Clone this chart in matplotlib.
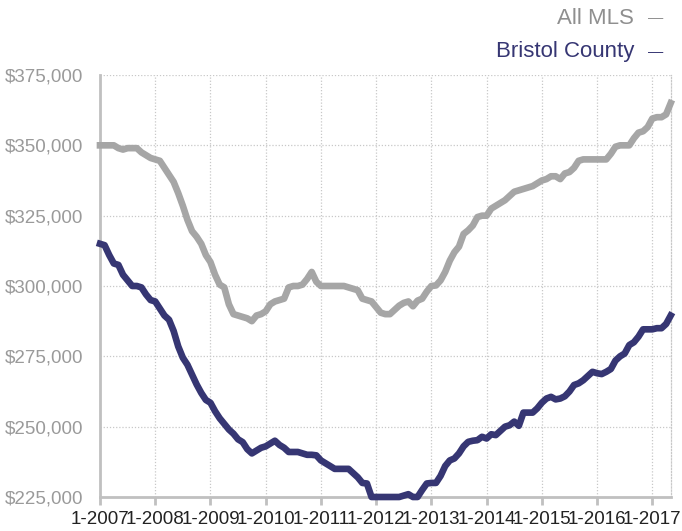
# Median sale price: All MLS vs Bristol County, monthly 1-2007 .. 5-2017
import matplotlib
matplotlib.use("Agg")
import matplotlib.pyplot as plt

all_mls = [
    350000, 350000, 350000, 350000, 349000, 348500, 349000, 349000, 349000, 347500,
    346500, 345500, 345000, 344500, 342000, 339500, 337000, 333000, 328500, 323500,
    319500, 317500, 315000, 311000, 308500, 304000, 300500, 299500, 293500, 290000,
    289500, 289000, 288500, 287500, 289500, 290000, 291000, 293500, 294500, 295000,
    295500, 299500, 300000, 300000, 300500, 302500, 305000, 301500, 300000, 300000,
    300000, 300000, 300000, 300000, 299500, 299000, 298500, 295500, 295000, 294500,
    292500, 290500, 290000, 290000, 291500, 293000, 294000, 294500, 292800, 294800,
    295500, 298000, 300000, 300200, 302000, 305000, 309000, 312000, 314000, 318500,
    319800, 321500, 324500, 325000, 325000, 327500, 328500, 329500, 330500, 332000,
    333500, 334000, 334500, 335000, 335500, 336500, 337500, 338000, 339000, 339000,
    338000, 340000, 340500, 342000, 344500, 345000, 345000, 345000, 345000, 345000,
    345000, 347000, 349500, 350000, 350000, 350000, 352500, 354500, 355000, 356500,
    359500, 360000, 360000, 361000, 365000,
]

bristol = [
    315000, 314500, 311000, 308000, 307500, 304000, 302000, 300000, 300000, 299500,
    297000, 295000, 294500, 292000, 289500, 288000, 284000, 278500, 274500, 272000,
    268500, 265000, 262000, 259500, 258500, 255500, 253000, 251000, 249000, 247500,
    245500, 244500, 242000, 240500, 241500, 242500, 243000, 244000, 245000, 243500,
    242500, 241000, 241000, 241000, 240500, 240000, 240000, 239800, 238000, 237000,
    236000, 235000, 235000, 235000, 235000, 233500, 232000, 230000, 229800, 225000,
    225000, 225000, 225000, 225000, 225000, 225000, 225500, 226000, 225000, 225000,
    227500, 229800, 230000, 230000, 232500, 236000, 238000, 238700, 240500, 243000,
    244600, 245000, 245200, 246400, 245800, 247300, 247000, 248500, 250000, 250500,
    251800, 250300, 255000, 255000, 255000, 256500, 258500, 260000, 260600, 259700,
    260000, 260800, 262500, 264800, 265400, 266500, 268000, 269500, 269000, 268700,
    269500, 270500, 273500, 275000, 276000, 279000, 280000, 282000, 284600, 284600,
    284600, 285000, 285000, 286500, 289500,
]

tick_labels = ["1-2007", "1-2008", "1-2009", "1-2010", "1-2011", "1-2012",
               "1-2013", "1-2014", "1-2015", "1-2016", "1-2017"]
y_ticks = [225000, 250000, 275000, 300000, 325000, 350000, 375000]

GRAY = "#a6a6a6"
NAVY = "#363673"
TEXT = "#9a9a9a"
AXIS = "#c0c0c0"

plt.rcParams['font.family'] = ['Liberation Sans', 'DejaVu Sans']

fig = plt.figure(figsize=(6.82, 5.31), dpi=100)
ax = fig.add_axes([100 / 682, 1 - 497 / 531, 570.7 / 682, 422 / 531])

months = list(range(len(all_mls)))
ax.plot(months, all_mls, color=GRAY, lw=4.8, solid_joinstyle="round", clip_on=False, zorder=3)
ax.plot(months, bristol, color=NAVY, lw=4.8, solid_joinstyle="round", clip_on=False, zorder=4)

ax.set_xlim(0, len(months) - 1)
ax.set_ylim(225000, 375000)

ax.set_xticks([12 * i for i in range(len(tick_labels))])
ax.set_xticklabels(tick_labels)
ax.set_yticks(y_ticks)
ax.set_yticklabels(["${:,}".format(v) for v in y_ticks])

ax.grid(True, color="#c8c8c8", linestyle=(0, (1, 1.5)), linewidth=0.9)
ax.set_axisbelow(True)

for side in ("left", "bottom"):
    ax.spines[side].set_color(AXIS)
    ax.spines[side].set_linewidth(2)
ax.spines["top"].set_visible(False)
ax.spines["right"].set_color("#c8c8c8")
ax.spines["right"].set_linestyle((0, (1, 1.5)))
ax.spines["right"].set_linewidth(0.9)

ax.tick_params(axis="x", colors=AXIS, length=6, width=2, pad=4,
               labelsize=13.5)
ax.tick_params(axis="y", length=0, pad=12, labelsize=13.5, labelcolor=TEXT)
for lbl in ax.get_xticklabels():
    lbl.set_color("#222222")

# legend drawn as text at the top right
fig.text(634 / 682, 1 - 18 / 531, "All MLS", color="#8f8f8f", fontsize=16,
         ha="right", va="center")
fig.text(656 / 682, 1 - 18 / 531, "—", color="#8f8f8f", fontsize=11,
         ha="center", va="center")
fig.text(634 / 682, 1 - 52 / 531, "Bristol County", color=NAVY, fontsize=16,
         ha="right", va="center")
fig.text(656 / 682, 1 - 52 / 531, "—", color=NAVY, fontsize=11,
         ha="center", va="center")

fig.savefig("out.png", dpi=100)
plt.close(fig)
